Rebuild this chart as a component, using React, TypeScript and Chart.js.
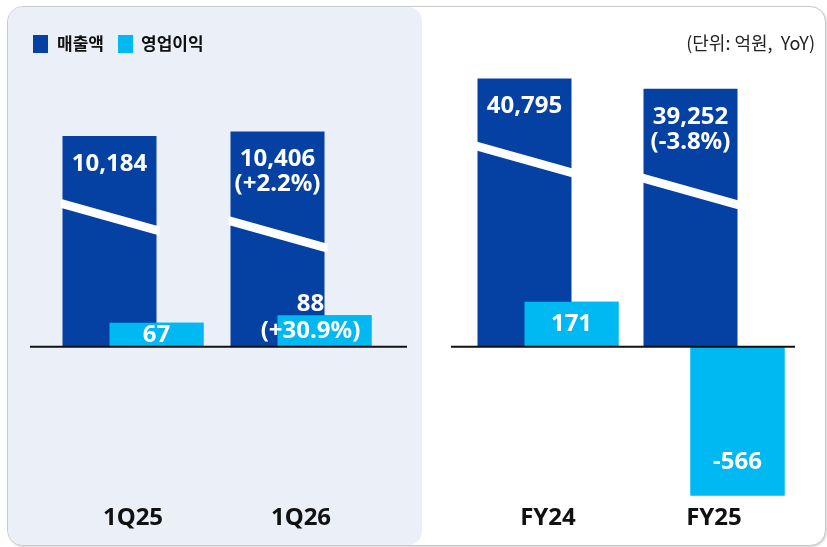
import React, { useEffect, useRef } from 'react';
import { Chart, registerables } from 'chart.js';

Chart.register(...registerables);

// ---------- data ----------
const quarterLabels = ['1Q25', '1Q26'];
const quarterRevenue = [10184, 10406];
const quarterOpProfit = [67, 88];
const quarterRevenueYoY: (number | null)[] = [null, 2.2];
const quarterOpProfitYoY: (number | null)[] = [null, 30.9];

const yearLabels = ['FY24', 'FY25'];
const yearRevenue = [40795, 39252];
const yearOpProfit = [171, -566];
const yearRevenueYoY: (number | null)[] = [null, -3.8];
const yearOpProfitYoY: (number | null)[] = [null, null];

const seriesNames = ['매출액', '영업이익'];
const unitNote = '(단위: 억원,  YoY)';

// ---------- style ----------
const REV_COLOR = '#0441A2';
const OP_COLOR = '#00B9F2';
const PANEL_BG = '#EAEFF8';
const NUM_FONT = '"Noto Sans", "Liberation Sans", sans-serif';
const KR_FONT = '"Noto Sans CJK KR", "Noto Sans", sans-serif';

const CANVAS_H = 537;
const PAD_TOP = 12;
const PLOT_BOTTOM = 492;
const ZERO_Y = 339;
const BAR_W = 94;

const fmtNum = (v: number) => v.toLocaleString('en-US');
const fmtPct = (p: number) => `(${p > 0 ? '+' : ''}${p.toFixed(1)}%)`;

const barDecor = {
  id: 'barDecor',
  afterDatasetsDraw(chart: any) {
    const ctx = chart.ctx;
    const cfg = chart.options.plugins.barDecor;
    const ds = chart.data.datasets;
    const revMeta = chart.getDatasetMeta(0);
    const opMeta = chart.getDatasetMeta(1);

    // operating-profit bars sit on top of revenue bars
    opMeta.data.forEach((el: any) => el.draw(ctx));

    ctx.save();
    // zero line
    const zy = chart.scales.y.getPixelForValue(0);
    ctx.strokeStyle = '#111';
    ctx.lineWidth = 2;
    ctx.beginPath();
    ctx.moveTo(chart.chartArea.left - cfg.extLeft, zy);
    ctx.lineTo(chart.chartArea.right + cfg.extRight, zy);
    ctx.stroke();

    ctx.fillStyle = '#fff';
    ctx.textAlign = 'center';
    ctx.textBaseline = 'middle';

    // revenue: labels + axis-break band
    revMeta.data.forEach((el: any, i: number) => {
      const v = ds[0].data[i];
      const p = ds[0].yoy[i];
      const lines = [fmtNum(v)];
      if (p !== null && p !== undefined) lines.push(fmtPct(p));
      const first = el.y + 28;
      const last = first + (lines.length - 1) * 25;
      const mid = last + (lines.length > 1 ? 50 : 53);
      const x0 = el.x - el.width / 2 - 2;
      const x1 = el.x + el.width / 2 + 3;
      const slope = 0.28;
      const half = ((x1 - x0) / 2) * slope;
      const th = 4.5;
      ctx.fillStyle = '#fff';
      ctx.beginPath();
      ctx.moveTo(x0, mid - half - th);
      ctx.lineTo(x1, mid + half - th);
      ctx.lineTo(x1, mid + half + th);
      ctx.lineTo(x0, mid - half + th);
      ctx.closePath();
      ctx.fill();
      ctx.font = `bold 24px ${NUM_FONT}`;
      lines.forEach((t, k) => ctx.fillText(t, el.x, first + k * 25));
    });

    // operating profit labels
    opMeta.data.forEach((el: any, i: number) => {
      const v = ds[1].data[i];
      const p = ds[1].yoy[i];
      const lines = [fmtNum(v)];
      if (p !== null && p !== undefined) lines.push(fmtPct(p));
      const h = Math.abs(el.base - el.y);
      const n = lines.length;
      let ys: number[] = [];
      let x = el.x;
      if (h < 70) {
        const c = (el.y + el.base) / 2;
        ys = lines.map((_, k) => c - (n - 1 - k) * 27);
        if (n > 1) x = el.x - 14;
      } else if (v >= 0) {
        ys = lines.map((_, k) => el.y + 33 + k * 27);
      } else {
        ys = lines.map((_, k) => el.y - 33 - (n - 1 - k) * 27);
      }
      ctx.font = `bold 24px ${NUM_FONT}`;
      lines.forEach((t, k) => ctx.fillText(t, x, ys[k]));
    });
    ctx.restore();
  },
};

type Geom = {
  width: number;
  padLeft: number;
  padRight: number;
  revPerPx: number;
  opPerPx: number;
  extLeft: number;
  extRight: number;
};

function buildChart(
  canvas: HTMLCanvasElement,
  labels: string[],
  revenue: number[],
  op: number[],
  revYoY: (number | null)[],
  opYoY: (number | null)[],
  g: Geom
) {
  const spacing = (g.width - g.padLeft - g.padRight) / labels.length;
  const catPct = BAR_W / spacing;
  const range = (perPx: number) => ({
    min: -(PLOT_BOTTOM - ZERO_Y) * perPx,
    max: (ZERO_Y - PAD_TOP) * perPx,
  });
  const r = range(g.revPerPx);
  const o = range(g.opPerPx);
  return new Chart(canvas, {
    type: 'bar',
    data: {
      labels,
      datasets: [
        {
          label: seriesNames[0],
          data: revenue,
          yoy: revYoY,
          backgroundColor: REV_COLOR,
          yAxisID: 'y',
          order: 0,
          categoryPercentage: catPct,
          barPercentage: 2,
        } as any,
        {
          label: seriesNames[1],
          data: op,
          yoy: opYoY,
          backgroundColor: OP_COLOR,
          yAxisID: 'yOp',
          order: 1,
          categoryPercentage: catPct,
          barPercentage: 2,
        } as any,
      ],
    },
    options: {
      responsive: false,
      animation: false,
      layout: { padding: { top: PAD_TOP, left: g.padLeft, right: g.padRight, bottom: 8.6 } },
      scales: {
        x: {
          grid: { display: false, drawTicks: false },
          border: { display: false },
          ticks: {
            color: '#111',
            padding: 4,
            maxRotation: 0,
            font: { family: NUM_FONT, size: 24, weight: 'bold' },
          },
        },
        y: { display: false, min: r.min, max: r.max },
        yOp: { display: false, min: o.min, max: o.max },
      },
      plugins: {
        legend: { display: false },
        tooltip: { enabled: false },
        barDecor: { extLeft: g.extLeft, extRight: g.extRight },
      } as any,
    },
    plugins: [barDecor],
  });
}

export default function App() {
  const leftRef = useRef<HTMLCanvasElement>(null);
  const rightRef = useRef<HTMLCanvasElement>(null);

  useEffect(() => {
    const a = buildChart(leftRef.current!, quarterLabels, quarterRevenue, quarterOpProfit, quarterRevenueYoY, quarterOpProfitYoY, {
      width: 413, padLeft: 40, padRight: 37, revPerPx: 48.3, opPerPx: 2.8, extLeft: 19, extRight: 22,
    });
    const b = buildChart(rightRef.current!, yearLabels, yearRevenue, yearOpProfit, yearRevenueYoY, yearOpProfitYoY, {
      width: 402, padLeft: 43, padRight: 27, revPerPx: 152, opPerPx: 3.8, extLeft: 14, extRight: -2,
    });
    return () => {
      a.destroy();
      b.destroy();
    };
  }, []);

  const legendText: React.CSSProperties = {
    position: 'fixed', top: 32, height: 22, lineHeight: '22px', fontFamily: KR_FONT,
    fontWeight: 700, fontSize: 17, color: '#111', whiteSpace: 'nowrap',
  };

  return (
    <div>
      <div
        style={{
          position: 'fixed', left: 7, top: 6, width: 819, height: 540, boxSizing: 'border-box',
          border: '1.5px solid #c9c9c9', borderRadius: 16, background: '#fff', overflow: 'hidden',
          boxShadow: '1px 1px 2px rgba(0,0,0,0.18)',
        }}
      >
        <div
          style={{
            position: 'absolute', left: 0, top: 0, bottom: 0, width: 413.5, background: PANEL_BG,
            borderTopRightRadius: 14, borderBottomRightRadius: 14,
          }}
        />
      </div>
      <canvas ref={leftRef} width={413} height={CANVAS_H} style={{ position: 'fixed', left: 9, top: 8 }} />
      <canvas ref={rightRef} width={402} height={CANVAS_H} style={{ position: 'fixed', left: 422, top: 8 }} />
      <div style={{ position: 'fixed', left: 33, top: 35, width: 15, height: 18, background: REV_COLOR }} />
      <div style={{ ...legendText, left: 57 }}>{seriesNames[0]}</div>
      <div style={{ position: 'fixed', left: 118, top: 35, width: 15, height: 18, background: OP_COLOR }} />
      <div style={{ ...legendText, left: 141 }}>{seriesNames[1]}</div>
      <div
        style={{
          position: 'fixed', left: 0, width: 815, top: 31, height: 22, lineHeight: '22px', textAlign: 'right',
          fontFamily: KR_FONT, fontSize: 18, color: '#222', whiteSpace: 'pre',
        }}
      >
        {unitNote}
      </div>
    </div>
  );
}
